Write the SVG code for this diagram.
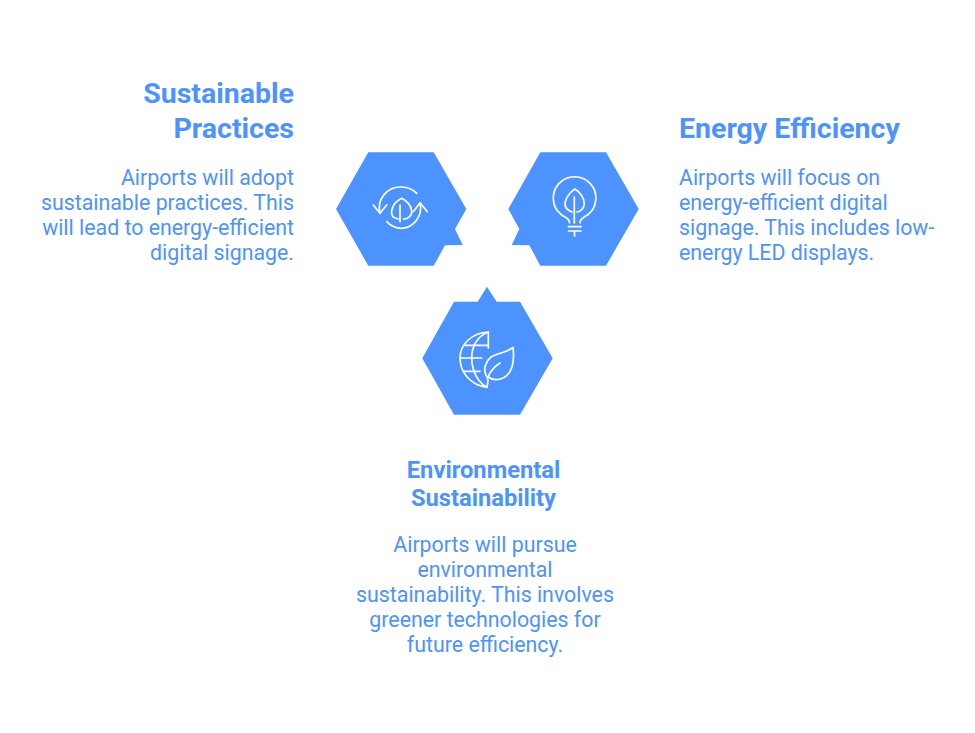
<svg xmlns="http://www.w3.org/2000/svg" width="975" height="733" viewBox="0 0 975 733">
<style>
.hex{fill:#4d93ff}
.ic{fill:none;stroke:#fff;stroke-width:1.7;stroke-linecap:round;stroke-linejoin:round}
text{font-family:Roboto,"Liberation Sans",sans-serif;fill:#4d93ff}
.t{font-size:28.500px;font-weight:700}
.t2{font-size:23.700px;font-weight:700}
.b{font-size:21.340px}
.e{text-anchor:end}
.m{text-anchor:middle}
</style>
<rect width="975" height="733" fill="#fff"/>
<g id="connectors"></g>
<g id="node-sustainable">
<path class="hex" d="M368.3 152.3H433.7L466.3 209L455 229L462.7 245L445 245.3L433.7 265.7H368.3L336 209Z"/>
<g class="ic">
<path d="M416.700 193.300A21 21 0 0 0 401 187A21 21 0 0 0 380 213.300"/>
<path d="M373.300 205L380 213.300L386.700 205"/>
<path d="M386.700 221.700A20.500 20.500 0 0 0 401.700 228.300A20.500 20.500 0 0 0 420 203"/>
<path d="M413.300 211.700L420 202.700L427.300 211.700"/>
<path d="M398 219C393 218 391 215 391.700 211C392.500 206 396 201 401.700 198.300C407 201 411 206 411.700 211C412 216 408 219 403.500 219"/>
<path d="M400 221.700V205"/>
</g>
<text class="t e" x="294" y="102.500">Sustainable</text>
<text class="t e" x="294" y="137.500">Practices</text>
<text class="b e" x="294" y="184.500">Airports will adopt</text>
<text class="b e" x="294" y="209.500">sustainable practices. This</text>
<text class="b e" x="294" y="235">will lead to energy-efficient</text>
<text class="b e" x="294" y="260">digital signage.</text>
</g>
<g id="node-energy">
<path class="hex" d="M540.3 152.3H606L638.7 209L606 265.7H540.3L529.3 245.3L511.7 245L519.3 229L508.3 209Z"/>
<g class="ic">
<path d="M569.500 222.700C569.500 218.500 565.500 217.500 561.700 215A21.300 21.300 0 1 1 587.500 215C583.500 217.500 580 218.500 580 222.700"/>
<path d="M568.500 226.700H581M568.500 231H581M574.500 231V236"/>
<path d="M572 212C567 210 564.500 207 565 203C566 198 570 192 575 189C580 192 584 198 584.300 203.500C584.300 208 581 211.500 577 212"/>
<path d="M574.300 223V197"/>
</g>
<text class="t" x="679" y="137.500">Energy Efficiency</text>
<text class="b" x="679" y="184.500">Airports will focus on</text>
<text class="b" x="679" y="209.500">energy-efficient digital</text>
<text class="b" x="679" y="235">signage. This includes low-</text>
<text class="b" x="679" y="260">energy LED displays.</text>
</g>
<g id="node-environmental">
<path class="hex" d="M454 301.7H477.700L487 286.700L496.700 301.700H520L552.700 358.300L520 414.700H454L422.300 358.300Z"/>
<g class="ic">
<path d="M488.300 332V348M486.700 387.300C470 385 460 372 460 358C460 345 471 333 488.300 332"/>
<path d="M488.300 332C477 336 471.700 347 471.700 358C471.700 371 478 382 486.700 387.300"/>
<path d="M465 345.300H488.300M460 358H481.700M464.300 371.300H480"/>
<path d="M486.700 387.300C488.500 382 488.500 378 486 375C483 369 486 361 491 357C497 353 506 353 513 347.500C514 356 514 366 509 373C503 381 493 381 488.300 377"/>
<path d="M488.300 377C490 371 494 367 500 363"/>
</g>
<text class="t2 m" x="483.500" y="477.500">Environmental</text>
<text class="t2 m" x="483.500" y="505.500">Sustainability</text>
<text class="b m" x="485" y="551.500">Airports will pursue</text>
<text class="b m" x="485" y="576.500">environmental</text>
<text class="b m" x="485" y="601.500">sustainability. This involves</text>
<text class="b m" x="485" y="627">greener technologies for</text>
<text class="b m" x="485" y="652">future efficiency.</text>
</g>
</svg>
